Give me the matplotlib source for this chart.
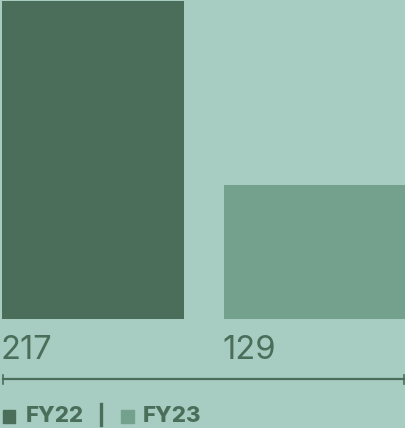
import matplotlib.pyplot as plt
from matplotlib.lines import Line2D
from matplotlib.patches import Rectangle

categories = ["FY22", "FY23"]
values = [217, 129]
labels = ["217", "129"]
colors = ["#4A6E5A", "#74A08E"]
bg = "#A7CDC2"
text_color = "#4A6E5A"

W, H = 406, 428
fig = plt.figure(figsize=(W / 100, H / 100), dpi=100)
fig.patch.set_facecolor(bg)

def fx(px):
    return px / W

def fy(py):
    return 1 - py / H

ax = fig.add_axes([fx(2), fy(319), fx(404), 318 / H])
ax.set_facecolor(bg)
xs = list(range(len(values)))
ax.bar(xs, values, width=0.82, color=colors, align="center")
ax.set_xlim(-0.41, 1.41)
ax.set_ylim(65, 217)
ax.axis("off")

for x, lab in zip(xs, labels):
    ax.annotate(lab, xy=(x - 0.41, 65), xytext=(-1, -28.8), textcoords="offset points",
                ha="left", va="baseline", fontsize=23.5, color=text_color,
                family=["Inter", "DejaVu Sans"])

# axis line with end caps
fig.add_artist(Line2D([fx(3), fx(404)], [fy(379), fy(379)], color=text_color, lw=1.6))
for px in (3, 404):
    fig.add_artist(Line2D([fx(px), fx(px)], [fy(375), fy(384)], color=text_color, lw=1.2))

# legend
lf = dict(ha="left", va="baseline", fontsize=16, fontweight=800,
          family=["Inter", "DejaVu Sans"], color=text_color)
fig.add_artist(Rectangle((fx(3), fy(422.5)), 12 / W, 13 / H, transform=fig.transFigure,
                         color=colors[0]))
fig.text(fx(26), fy(421.5), "FY22", **lf)
fig.add_artist(Line2D([fx(101.5), fx(101.5)], [fy(404), fy(425)], color=text_color, lw=2.4))
fig.add_artist(Rectangle((fx(121), fy(422.5)), 13 / W, 13 / H, transform=fig.transFigure,
                         color=colors[1]))
fig.text(fx(143), fy(421.5), "FY23", **lf)

fig.savefig("out.png", dpi=100, facecolor=bg)
